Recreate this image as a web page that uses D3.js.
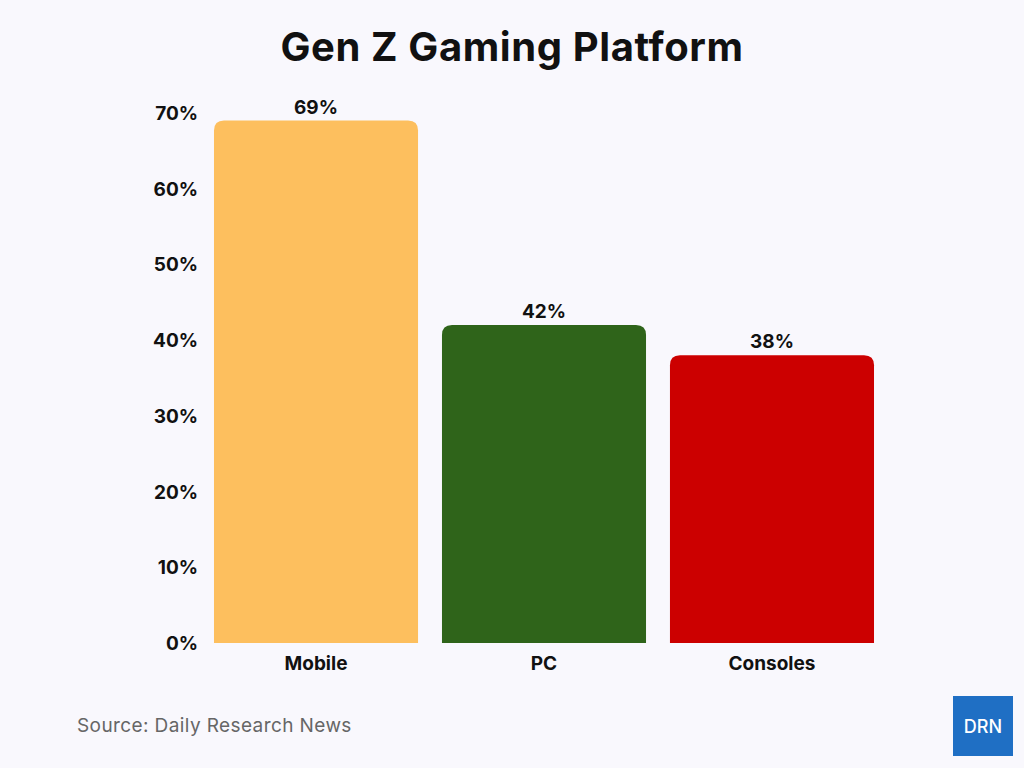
<!DOCTYPE html>
<html>
<head>
<meta charset="utf-8">
<script src="https://cdn.jsdelivr.net/npm/d3@7"></script>
<style>
body{margin:0;background:#f9f8fd;font-family:Inter,"Noto Sans",sans-serif;}
</style>
</head>
<body>
<svg id="chart" width="1024" height="768"></svg>
<script>
// chart data
var platforms=["Mobile","PC","Consoles"];
var shares=[69,42,38];
var barColors=["#fdbf5e","#2f641a","#cc0000"];
var yTicks=[0,10,20,30,40,50,60,70];

var svg=d3.select("#chart");
svg.append("rect").attr("width",1024).attr("height",768).attr("fill","#f9f8fd");

var x=d3.scaleBand().domain(platforms).range([202,886]).paddingInner(0.105).paddingOuter(0.0526);
var y=d3.scaleLinear().domain([0,70]).range([643,113]);

svg.append("text").attr("x",512).attr("y",61).attr("text-anchor","middle")
  .attr("font-size",40).attr("font-weight",700).attr("letter-spacing",0.6).attr("fill","#111").text("Gen Z Gaming Platform");

// y axis labels
svg.selectAll(".yt").data(yTicks).enter().append("text")
  .attr("x",198).attr("y",d=>y(d)+7).attr("text-anchor","end")
  .attr("font-size",19).attr("font-weight",700).attr("fill","#111")
  .text(d=>d+"%");

function barPath(x0,w,top,bottom,r){
  return "M"+x0+","+bottom+"V"+(top+r)+"Q"+x0+","+top+" "+(x0+r)+","+top+
    "H"+(x0+w-r)+"Q"+(x0+w)+","+top+" "+(x0+w)+","+(top+r)+"V"+bottom+"Z";
}

var data=platforms.map((p,i)=>({name:p,value:shares[i],color:barColors[i]}));

svg.selectAll(".bar").data(data).enter().append("path")
  .attr("d",d=>barPath(x(d.name),x.bandwidth(),y(d.value),y(0),10))
  .attr("fill",d=>d.color);

svg.selectAll(".val").data(data).enter().append("text")
  .attr("x",d=>x(d.name)+x.bandwidth()/2).attr("y",d=>y(d.value)-7)
  .attr("text-anchor","middle").attr("font-size",19).attr("font-weight",700).attr("fill","#111")
  .text(d=>d.value+"%");

svg.selectAll(".cat").data(data).enter().append("text")
  .attr("x",d=>x(d.name)+x.bandwidth()/2).attr("y",670)
  .attr("text-anchor","middle").attr("font-size",19).attr("font-weight",700).attr("fill","#111")
  .text(d=>d.name);

svg.append("text").attr("x",77).attr("y",732).attr("font-size",19).attr("letter-spacing",0.4).attr("fill","#666")
  .text("Source: Daily Research News");

// logo
svg.append("rect").attr("x",953).attr("y",696).attr("width",60).attr("height",60).attr("fill","#1f6fc4");
svg.append("text").attr("x",983).attr("y",733).attr("text-anchor","middle")
  .attr("font-size",18).attr("font-weight",500).attr("fill","#fff").text("DRN");
</script>
</body>
</html>
